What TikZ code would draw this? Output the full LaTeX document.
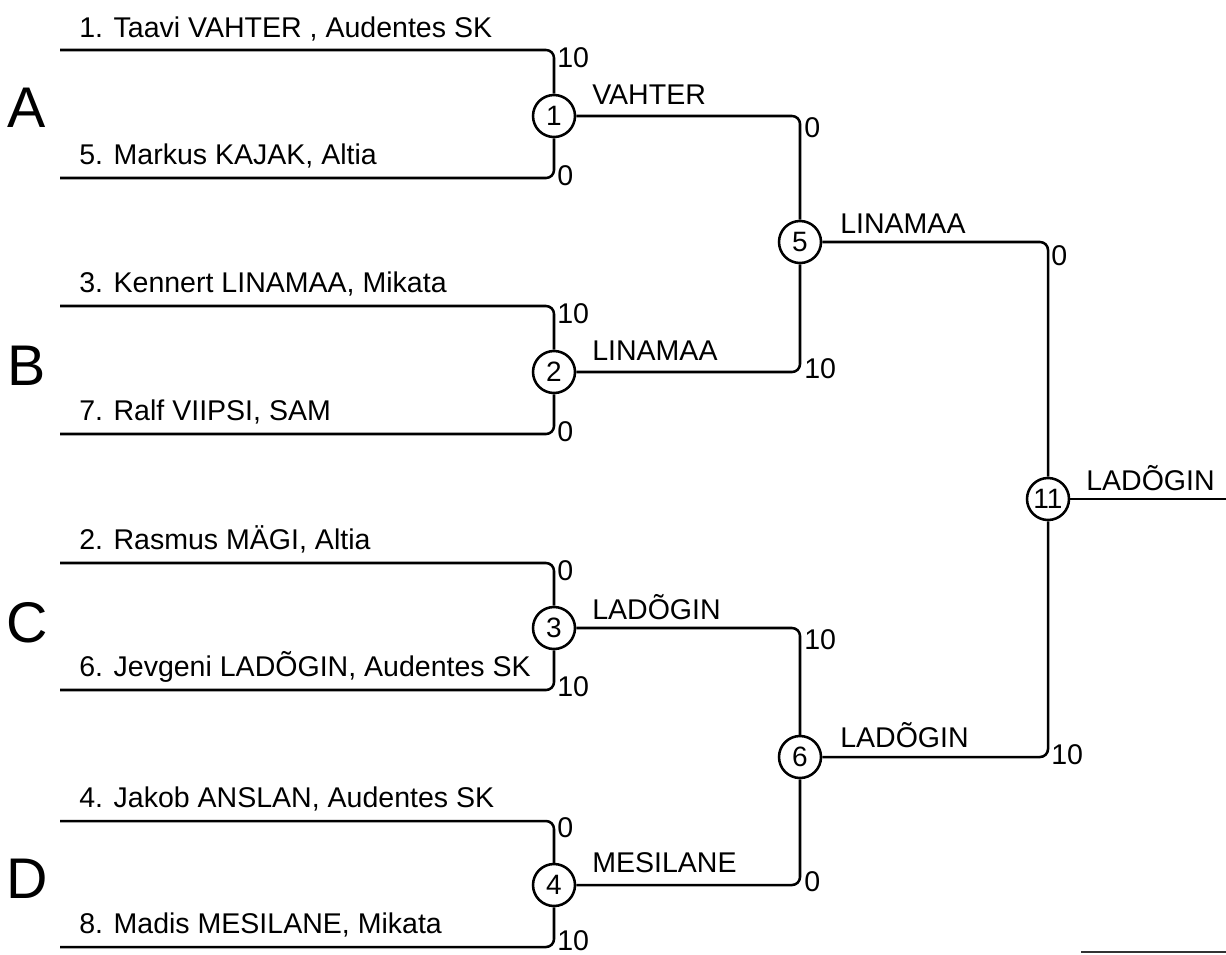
\documentclass[tikz,border=0pt]{standalone}
\usepackage{fontspec}
\setmainfont{Liberation Sans}
\begin{document}
\begin{tikzpicture}[x=0.75pt,y=-0.75pt,
  ln/.style={line width=1.9pt, rounded corners=6pt},
  mcirc/.style={circle, draw, line width=1.9pt, fill=white, minimum size=31.5pt, inner sep=0pt, font=\fontsize{21}{23}\selectfont},
  player/.style={anchor=base west, font=\fontsize{21.4}{23}\selectfont, inner sep=0pt},
  score/.style={anchor=west, font=\fontsize{21.4}{23}\selectfont, inner sep=0pt},
  winner/.style={anchor=west, font=\fontsize{21.4}{23}\selectfont, inner sep=0pt},
  grp/.style={font=\fontsize{43}{45}\selectfont, inner sep=0pt}]
\useasboundingbox (0,0) rectangle (1226,954);

% start points
\coordinate (s1) at (60,50);
\coordinate (s5) at (60,178);
\coordinate (s3) at (60,306);
\coordinate (s7) at (60,434);
\coordinate (s2) at (60,563);
\coordinate (s6) at (60,690);
\coordinate (s4) at (60,821);
\coordinate (s8) at (60,947);

% match circles
\node[mcirc] (m1) at (554,116) {1};
\node[mcirc] (m2) at (554,372) {2};
\node[mcirc] (m3) at (554,628) {3};
\node[mcirc] (m4) at (554,885) {4};
\node[mcirc] (m5) at (800,242) {5};
\node[mcirc] (m6) at (800,757) {6};
\node[mcirc] (m11) at (1048,499) {11};
\coordinate (out) at (1226,499);

% connectors
\draw[ln] (s1) -| (m1);
\draw[ln] (s5) -| (m1);
\draw[ln] (s3) -| (m2);
\draw[ln] (s7) -| (m2);
\draw[ln] (s2) -| (m3);
\draw[ln] (s6) -| (m3);
\draw[ln] (s4) -| (m4);
\draw[ln] (s8) -| (m4);
\draw[ln] (m1) -| (m5);
\draw[ln] (m2) -| (m5);
\draw[ln] (m3) -| (m6);
\draw[ln] (m4) -| (m6);
\draw[ln] (m5) -| (m11);
\draw[ln] (m6) -| (m11);
\draw[ln] (m11) -- (out);

% players
\node[player] (p1) at (79,37) {1. Taavi VAHTER , Audentes SK};
\node[player] (p5) at (79,164) {5. Markus KAJAK, Altia};
\node[player] (p3) at (79,292) {3. Kennert LINAMAA, Mikata};
\node[player] (p7) at (79,420) {7. Ralf VIIPSI, SAM};
\node[player] (p2) at (79,549) {2. Rasmus MÄGI, Altia};
\node[player] (p6) at (79,676) {6. Jevgeni LADÕGIN, Audentes SK};
\node[player] (p4) at (79,807) {4. Jakob ANSLAN, Audentes SK};
\node[player] (p8) at (79,933) {8. Madis MESILANE, Mikata};

% groups
\node[grp] (gA) at (27,108) {A};
\node[grp] (gB) at (27,366) {B};
\node[grp] (gC) at (27,623) {C};
\node[grp] (gD) at (27,879) {D};

% scores
\node[score] (c1a) at (557,58) {10};
\node[score] (c1b) at (557,176) {0};
\node[score] (c2a) at (557,314) {10};
\node[score] (c2b) at (557,432) {0};
\node[score] (c3a) at (557,571) {0};
\node[score] (c3b) at (557,687) {10};
\node[score] (c4a) at (557,828) {0};
\node[score] (c4b) at (557,941) {10};
\node[score] (c5a) at (804,128) {0};
\node[score] (c5b) at (804,369) {10};
\node[score] (c6a) at (804,640) {10};
\node[score] (c6b) at (804,882) {0};
\node[score] (c11a) at (1051,256) {0};
\node[score] (c11b) at (1051,755) {10};

% winners
\node[winner] (w1) at (592,95) {VAHTER};
\node[winner] (w2) at (592,351) {LINAMAA};
\node[winner] (w3) at (592,607) {LADÕGIN};
\node[winner] (w4) at (592,863) {MESILANE};
\node[winner] (w5) at (840,224) {LINAMAA};
\node[winner] (w6) at (840,735) {LADÕGIN};
\node[winner] (w11) at (1086,478) {LADÕGIN};

% thin line bottom right
\coordinate (b1) at (1081,952);
\coordinate (b2) at (1226,952);
\draw[line width=0.8pt, black!80] (b1) -- (b2);
\end{tikzpicture}
\end{document}
